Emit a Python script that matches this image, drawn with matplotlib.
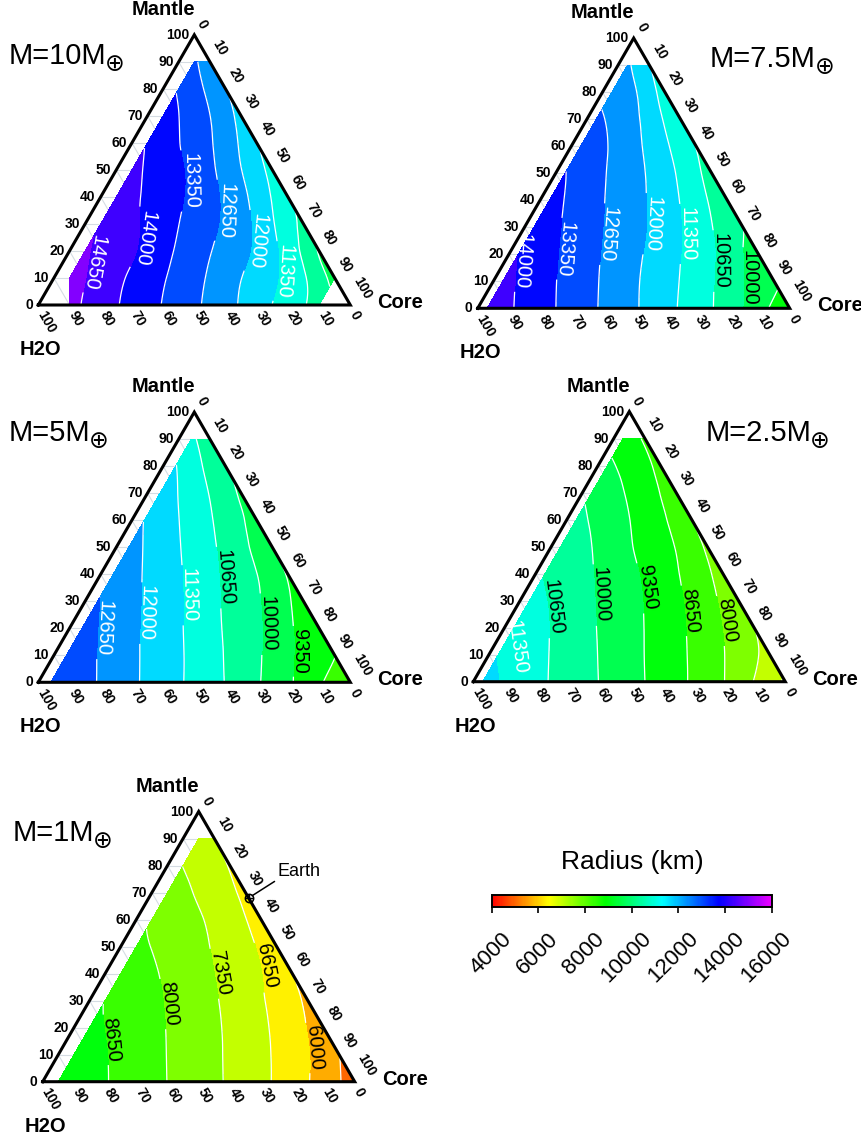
import numpy as np
import matplotlib
matplotlib.use('Agg')
import matplotlib.pyplot as plt
import matplotlib.tri as mtri
from matplotlib import colors as mcolors
from matplotlib.cm import ScalarMappable
from matplotlib.textpath import TextPath
from matplotlib.font_manager import FontProperties

plt.rcParams['font.family'] = ['Liberation Sans', 'DejaVu Sans']

# ---- data: planet radius (km) on a composition grid -------------------
# one row per mantle fraction (%), core fraction runs first, 10, 20, ... 100-mantle
mantle_rows = [0, 10, 20, 30, 40, 50, 60, 70, 80, 90]
nan = np.nan

masses = ['10', '7.5', '5', '2.5', '1']
core_first = [5, 3, 4, 3, 5]

radius_10 = [
    [nan, 14847, 14318, 13801, 13302, 12789, 12226, 11640, 11025, 10374, nan],
    [14883, 14680, 14147, 13646, 13127, 12582, 12011, 11446, 10747, 9739],
    [14740, 14520, 14076, 13524, 12970, 12438, 11868, 11052, 9930],
    [14580, 14340, 13871, 13340, 12812, 12246, 11396, 10475],
    [14400, 14140, 13657, 13156, 12542, 11756, 10809],
    [14190, 13920, 13432, 12800, 12016, 11129],
    [13950, 13660, 13050, 12357, 11400],
    [13660, 13340, 12674, 11787],
    [13260, 12900, 12050],
    [12760, 12330],
]
radius_7_5 = [
    [14365, 14073, 13586, 13092, 12591, 12086, 11554, 10991, 10371, 9600, 8711],
    [14180, 13861, 13348, 12854, 12354, 11841, 11309, 10719, 10021, 9450],
    [13985, 13644, 13120, 12638, 12151, 11623, 11051, 10388, 9612],
    [13775, 13420, 12919, 12438, 11952, 11351, 10687, 10020],
    [13565, 13215, 12704, 12214, 11644, 10946, 10190],
    [13350, 13000, 12467, 11924, 11210, 10387],
    [13080, 12755, 12187, 11448, 10650],
    [12790, 12460, 11739, 10780],
    [12470, 12080, 11010],
    [12100, 11380],
]
radius_5 = [
    [13250, 13083, 12599, 12116, 11648, 11166, 10644, 10074, 9453, 8752, 8080],
    [13144, 12852, 12365, 11883, 11417, 10899, 10366, 9795, 9146, 8680],
    [12919, 12623, 12128, 11647, 11147, 10606, 10101, 9461, 8793],
    [12702, 12401, 11901, 11407, 10854, 10336, 9765, 9029],
    [12477, 12169, 11656, 11122, 10558, 10011, 9280],
    [12246, 11918, 11371, 10790, 10188, 9400],
    [11983, 11635, 11042, 10408, 9728],
    [11717, 11313, 10636, 9900],
    [11360, 10872, 10114],
    [10793, 10348],
]
radius_2_5 = [
    [11527, 11268, 10838, 10417, 10005, 9564, 9101, 8599, 8034, 7311, 6570],
    [11304, 11052, 10633, 10205, 9775, 9323, 8852, 8314, 7739, 7111],
    [11112, 10850, 10414, 9978, 9548, 9082, 8568, 7987, 7350],
    [10869, 10611, 10181, 9745, 9303, 8798, 8210, 7560],
    [10632, 10372, 9937, 9486, 8994, 8424, 7753],
    [10440, 10143, 9649, 9151, 8637, 7900],
    [10158, 9852, 9343, 8798, 8050],
    [9863, 9521, 8952, 8330],
    [9457, 9103, 8500],
    [8994, 8594],
]
radius_1 = [
    [9241, 9063, 8706, 8350, 7993, 7626, 7248, 6820, 6320, 5715, 5033],
    [9048, 8872, 8519, 8166, 7806, 7439, 7028, 6580, 6038, 5350],
    [8830, 8657, 8318, 7978, 7612, 7228, 6789, 6267, 5653],
    [8645, 8460, 8127, 7768, 7393, 6962, 6472, 5880],
    [8447, 8264, 7897, 7531, 7127, 6680, 6050],
    [8156, 7983, 7635, 7273, 6813, 6343],
    [7930, 7733, 7398, 6932, 6446],
    [7708, 7477, 7013, 6539],
    [7320, 7100, 6630],
    [6960, 6690],
]
radius_tables = [radius_10, radius_7_5, radius_5, radius_2_5, radius_1]

earth_core, earth_mantle = 32, 68

levels = np.linspace(4000, 16000, 19)
cbar_ticks = [4000, 6000, 8000, 10000, 12000, 14000, 16000]

# ---- layout -----------------------------------------------------------
FIG_W, FIG_H = 862, 1134
PX = 0.72            # points per pixel at 100 dpi
H = np.sqrt(3) / 2
SIDE = 312.0
corners = [(38.3, 305.0), (477.7, 308.3), (38.3, 682.3), (473.3, 681.7), (42.7, 1081.7)]
title_side = ['left', 'right', 'left', 'right', 'left']
# contour label spots (level index, x, y, free) in triangle coordinates;
# free labels stay at the spot instead of sitting beside the line
label_spots = [
    [(16, .195, .130, 0), (15, .344, .214, 0), (14, .489, .398, 0), (13, .596, .307, 0),
     (12, .701, .204, 0), (11, .797, .107, 0)],
    [(15, .174, .147, 0), (14, .319, .187, 0), (13, .455, .230, 0), (12, .582, .268, 0),
     (11, .691, .240, 0), (10, .785, .152, 0), (9, .871, .097, 0)],
    [(13, .234, .173, 0), (12, .380, .220, 0), (11, .516, .280, 0), (10, .619, .338, 0),
     (9, .747, .191, 0), (8, .846, .099, 0)],
    [(11, .139, .110, 1), (10, .280, .243, 0), (9, .429, .279, 0), (8, .571, .300, 0),
     (7, .707, .229, 0), (6, .811, .201, 0)],
    [(7, .240, .141, 0), (6, .416, .251, 0), (5, .572, .347, 0), (4, .709, .364, 0),
     (3, .885, .107, 0)],
]

hues = np.linspace(0, 0.82, 256)
cmap = mcolors.ListedColormap(mcolors.hsv_to_rgb(np.column_stack([hues, np.ones(256), np.ones(256)])))
norm = mcolors.Normalize(4000, 16000)


def tern(core, mantle):
    core = np.asarray(core, float) / 100
    mantle = np.asarray(mantle, float) / 100
    return core + mantle / 2, mantle * H


def make_axes(lx, ly, w=SIDE):
    x0, x1, y0, y1 = -0.3, 1.3, -0.3, 1.1
    left = lx + x0 * w
    bottom = (FIG_H - ly) + y0 * w
    ax = fig.add_axes([left / FIG_W, bottom / FIG_H, (x1 - x0) * w / FIG_W, (y1 - y0) * w / FIG_H])
    ax.set_xlim(x0, x1)
    ax.set_ylim(y0, y1)
    ax.axis('off')
    return ax


def fmt_label(v):
    return '%d' % (int(round(v / 50.0)) * 50)


fig = plt.figure(figsize=(FIG_W / 100, FIG_H / 100), dpi=100)
mass_labels = []

for i, (mass, table) in enumerate(zip(masses, radius_tables)):
    ax = make_axes(*corners[i])

    # light grid
    for v in range(10, 100, 10):
        f = v / 100
        kw = dict(color='#d5dce3', lw=0.8, zorder=1)
        ax.plot([f / 2, 1 - f / 2], [f * H, f * H], **kw)
        ax.plot([f, 0.5 + f / 2], [0, (1 - f) * H], **kw)
        ax.plot([1 - f, 0.5 * (1 - f)], [0, (1 - f) * H], **kw)

    # grid nodes
    cs_, ms_, rs_ = [], [], []
    for m, row in zip(mantle_rows, table):
        cores = [core_first[i]] + list(range(10, 101 - m, 10))
        for c, r in zip(cores, row):
            if np.isnan(r):
                continue
            cs_.append(c)
            ms_.append(m)
            rs_.append(r)
    x, y = tern(cs_, ms_)
    z = np.array(rs_, float)
    tri = mtri.Triangulation(x, y)
    interp = mtri.CubicTriInterpolator(tri, z, kind='min_E')
    tri_r, z_r = mtri.UniformTriRefiner(tri).refine_field(z, interp, subdiv=3)

    ax.tricontourf(tri_r, z_r, levels=levels, cmap=cmap, norm=norm, zorder=2)
    cs = ax.tricontour(tri_r, z_r, levels=levels, colors='white', linewidths=0.9, zorder=3)

    # snap each label spot onto its own contour line
    spots = []
    for k, lx, ly, free in label_spots[i]:
        verts = cs.get_paths()[k].vertices
        d = np.hypot(verts[:, 0] - lx, verts[:, 1] - ly)
        spots.append(tuple(verts[np.argmin(d)]))
    texts = cs.clabel(manual=spots, inline=True, inline_spacing=3,
                      fmt=fmt_label, fontsize=14.5)
    for t, (k, lx, ly, free) in zip(texts, label_spots[i]):
        r = t.get_rotation() % 360
        if r < 180:
            r += 180
        t.set_rotation(r)
        t.set_rotation_mode('anchor')
        if free:
            t.set_position((lx, ly))
        else:
            t.set_verticalalignment('baseline')
        t.set_color('white' if float(t.get_text()) > 11000 else 'black')

    # frame
    ax.plot([0, 1, 0.5, 0], [0, 0, H, 0], color='black', lw=2.2,
            solid_joinstyle='miter', zorder=6, clip_on=False)

    # axis tick labels
    tk = dict(textcoords='offset points', fontsize=10, fontweight='bold')
    for v in range(0, 101, 10):
        f = v / 100
        ax.annotate(str(v), (f / 2, f * H), xytext=(-5 * PX, 0), ha='right', va='center', **tk)
        ax.annotate(str(v), (0.5 + f / 2, (1 - f) * H), xytext=(0, 3.5 * PX),
                    ha='left', va='bottom', rotation=-60, **tk)
        ax.annotate(str(v), (1 - f, 0), xytext=(-3.8 * PX, -3.8 * PX),
                    ha='left', va='top', rotation=-60, **tk)

    ttl = dict(textcoords='offset points', fontsize=14.5, fontweight='bold', va='baseline')
    ax.annotate('Mantle', (0.5, H), xytext=(1 * PX, 20 * PX), ha='right', **ttl)
    ax.annotate('Core', (1, 0), xytext=(27 * PX, -3 * PX), ha='left', **ttl)
    ax.annotate('H2O', (0, 0), xytext=(2.5 * PX, -50 * PX), ha='center', **ttl)

    if title_side[i] == 'left':
        t = ax.annotate('M=%sM' % mass, (0, 0), xytext=(-30 * PX, 241 * PX), textcoords='offset points',
                        ha='left', va='baseline', fontsize=21)
    else:
        t = ax.annotate('M=%sM' % mass, (1, 0), xytext=(26 * PX, 241 * PX), textcoords='offset points',
                        ha='right', va='baseline', fontsize=21)
    mass_labels.append((t, ax.transData.transform((0, 0))[1] + 241))

    if mass == '1':
        ex, ey = tern(earth_core, earth_mantle)
        ax.plot(ex, ey, 'o', ms=6, mfc='none', mec='black', mew=1.1, zorder=7, clip_on=False)
        ax.plot(ex, ey, '+', ms=6, mec='black', mew=1.0, zorder=7, clip_on=False)
        ax.annotate('Earth', (ex, ey), xytext=(28.7 * PX, 22.3 * PX), textcoords='offset points',
                    ha='left', va='baseline', fontsize=13,
                    arrowprops=dict(arrowstyle='-', color='black', lw=1.1,
                                    relpos=(0, 0), shrinkA=0, shrinkB=3))

# ---- colour bar ------------------------------------------------------
cax = fig.add_axes([491.7 / FIG_W, 1 - 907.3 / FIG_H, 280 / FIG_W, 12.3 / FIG_H])
cb = fig.colorbar(ScalarMappable(norm=norm, cmap=cmap), cax=cax,
                  orientation='horizontal', ticks=cbar_ticks)
cb.outline.set_linewidth(1.4)
cax.tick_params(axis='x', direction='out', length=6 * PX, width=1.2, labelbottom=False)
for v in cbar_ticks:
    cax.annotate(str(v), xy=(v, 0), xycoords=('data', 'axes fraction'),
                 xytext=(9 * PX, -21 * PX), textcoords='offset points',
                 rotation=45, rotation_mode='anchor', ha='right', va='top', fontsize=16)
fig.text(632 / FIG_W, 1 - 862 / FIG_H, 'Radius (km)', ha='center', va='center', fontsize=19)

# Earth-mass symbol drawn as a large subscript after each mass label
fig.canvas.draw()
rend = fig.canvas.get_renderer()
oplus_fp = FontProperties(family='DejaVu Sans')
ext = TextPath((0, 0), '\u2295', size=100, prop=oplus_fp).get_extents()
size_px = 15.5 / ext.height * 100
for t, ybase in mass_labels:
    bb = t.get_window_extent(rend)
    xa = bb.x1 + 1 - ext.x0 * size_px / 100
    ya = ybase + 0.5 - (ext.y0 + ext.height / 2) * size_px / 100
    fig.text(xa / FIG_W, ya / FIG_H, '\u2295', ha='left', va='baseline',
             fontsize=size_px * PX, fontproperties=oplus_fp)

fig.savefig('out.png', dpi=100)
